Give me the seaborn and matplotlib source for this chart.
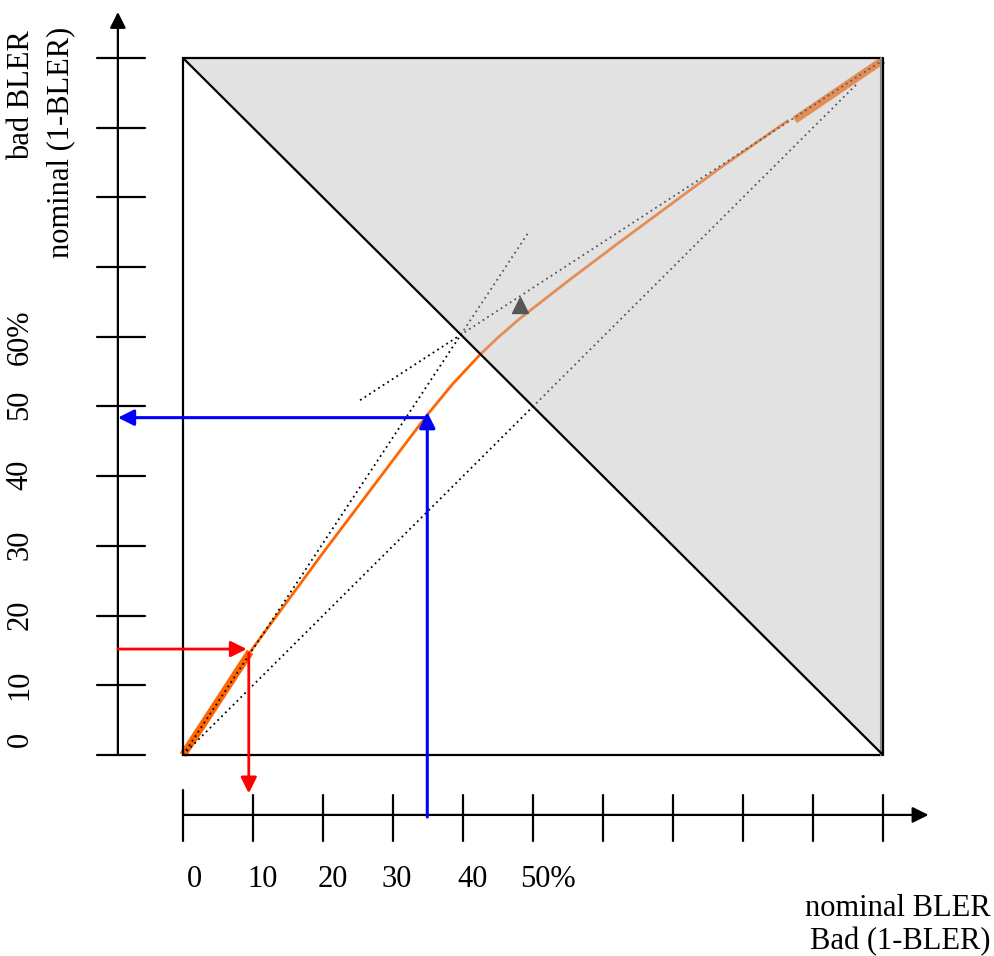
import matplotlib
matplotlib.use('Agg')
import matplotlib.pyplot as plt
import seaborn as sns
import pandas as pd
from matplotlib.patches import Polygon

# curve: nominal BLER (x) -> bad BLER (y), in percent
nominal_bler = [0, 9.6, 20, 30, 34.9, 38.5, 42.4, 45.0, 48.1, 55.0, 62.4, 76.7, 86.4]
bad_bler = [0, 14.8, 29.0, 42.3, 48.8, 53.2, 57.4, 59.9, 62.6, 68.0, 73.6, 84.2, 91.0]

# thick end pieces of the curve
low_x = [0, 9.6]
low_y = [0, 14.8]
high_x = [87.4, 100]
high_y = [91.1, 99.7]

# dotted guide lines (start / end)
diag_x = [0, 96.5]
diag_y = [0, 96.5]
steep_x = [0, 49.3]
steep_y = [0, 74.9]
shallow_x = [25.3, 100]
shallow_y = [50.9, 99.7]

# marker on the curve
mark_x = [48.1]
mark_y = [64.6]

# read-off examples
red_nominal, red_bad = 9.4, 15.2
blue_nominal, blue_bad = 34.9, 48.4

x_ticks = [0, 10, 20, 30, 40, 50, 60, 70, 80, 90, 100]
y_ticks = [0, 10, 20, 30, 40, 50, 60, 70, 80, 90, 100]
x_labels = ["0", "10", "20", "30", "40", "50%"]
x_label_pos = [1.7, 11.4, 21.4, 30.6, 41.4, 52.1]
y_labels = ["0", "10", "20", "30", "40", "50", "60%"]
y_label_pos = [2.2, 10.0, 20.1, 30.1, 40.2, 50.2, 60.0]

sns.set_style("white")
plt.rcParams['font.family'] = ['Liberation Serif', 'DejaVu Serif']
plt.rcParams['text.color'] = 'black'
FS = 22

fig = plt.figure(figsize=(9.94, 9.56), dpi=100)
ax = fig.add_axes([0, 0, 1, 1])
ax.set_xlim(-26.14, 115.86)
ax.set_ylim(-28.84, 108.32)
ax.axis('off')

orange = '#ff6600'
curve = pd.DataFrame({'nominal': nominal_bler, 'bad': bad_bler})
sns.lineplot(data=curve, x='nominal', y='bad', color=orange, lw=2, sort=False,
             ax=ax, zorder=2)
ax.plot(low_x, low_y, color=orange, lw=5.5, solid_capstyle='butt', zorder=2)
ax.plot(high_x, high_y, color=orange, lw=5.5, solid_capstyle='butt', zorder=2)

dot = (0, (1, 2))
for xs, ys in [(diag_x, diag_y), (steep_x, steep_y), (shallow_x, shallow_y)]:
    ax.plot(xs, ys, color='black', lw=1.3, linestyle=dot, zorder=2)

ax.plot(mark_x, mark_y, marker='^', color='black', markersize=11, ls='none',
        zorder=2)

# gray half (above the anti-diagonal), semi-transparent over the curve
ax.add_patch(Polygon([(0, 100), (100, 100), (100, 0)], closed=True,
                     facecolor='#c0c0c0', alpha=0.45, edgecolor='none',
                     zorder=3))

# square border and anti-diagonal
ax.plot([0, 100, 100, 0, 0], [0, 0, 100, 100, 0], color='black', lw=1.6,
        zorder=4)
ax.plot([99.7, 99.7], [0, 100], color='#888888', lw=1.5, zorder=4)
ax.plot([0, 100], [100, 0], color='black', lw=1.6, zorder=4)

# own axes with arrows
ax_x0, ax_y0 = -9.3, -8.6
ax.annotate('', xy=(106.5, ax_y0), xytext=(0, ax_y0),
            arrowprops=dict(arrowstyle='-|>', color='black', lw=1.6,
                            mutation_scale=24, shrinkA=0, shrinkB=0))
ax.annotate('', xy=(ax_x0, 106.6), xytext=(ax_x0, 0),
            arrowprops=dict(arrowstyle='-|>', color='black', lw=1.6,
                            mutation_scale=24, shrinkA=0, shrinkB=0))
for t in x_ticks:
    top = -5.0 if t == 0 else -5.7
    ax.plot([t, t], [top, -12.4], color='black', lw=1.6)
for t in y_ticks:
    ax.plot([-12.3, -5.4], [t, t], color='black', lw=1.6)

for lab, pos in zip(x_labels, x_label_pos):
    ax.text(pos, -17.9, lab, fontsize=FS, ha='center', va='center')
for lab, pos in zip(y_labels, y_label_pos):
    ax.text(-23.3, pos, lab, fontsize=FS, ha='center', va='center',
            rotation=90)

ax.text(115.4, -22.0, "nominal BLER", fontsize=FS, ha='right', va='center')
ax.text(115.4, -26.8, "Bad (1-BLER)", fontsize=FS, ha='right', va='center')
ax.text(-23.0, 104.0, "bad BLER", fontsize=FS, ha='center', va='top',
        rotation=90)
ax.text(-17.4, 104.5, "nominal (1-BLER)", fontsize=FS, ha='center', va='top',
        rotation=90)

# read-off arrows
arr = dict(arrowstyle='-|>', mutation_scale=24, shrinkA=0, shrinkB=0)
ax.annotate('', xy=(red_nominal - 0.3, red_bad), xytext=(ax_x0, red_bad),
            arrowprops=dict(color='red', lw=2, **arr), zorder=5)
ax.annotate('', xy=(red_nominal, -5.5), xytext=(red_nominal, red_bad - 0.6),
            arrowprops=dict(color='red', lw=2, **arr), zorder=5)
ax.annotate('', xy=(blue_nominal, blue_bad + 0.8), xytext=(blue_nominal, -8.9),
            arrowprops=dict(color='blue', lw=2.2, **arr), zorder=5)
ax.annotate('', xy=(ax_x0, blue_bad), xytext=(blue_nominal, blue_bad),
            arrowprops=dict(color='blue', lw=2.2, **arr), zorder=5)

fig.savefig('out.png', dpi=100)
